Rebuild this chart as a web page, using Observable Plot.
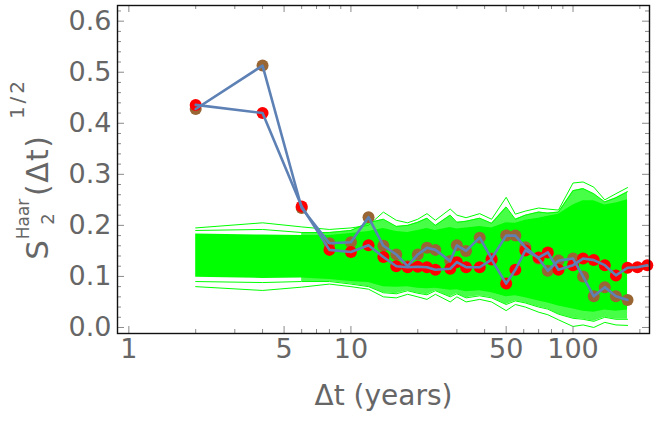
<!DOCTYPE html>
<html><head><meta charset="utf-8">
<script src="https://cdn.jsdelivr.net/npm/d3@7"></script>
<script src="https://cdn.jsdelivr.net/npm/@observablehq/plot@0.6"></script>
<style>body{margin:0;background:#fff;}</style>
</head><body><div id="chart"></div>
<script>
// Ensemble (green) envelope and a few edge traces
const ensT       = [2, 4, 6, 8, 10, 12, 14, 16, 18, 20, 22, 24, 28, 30, 33, 38, 43, 50, 55, 61, 70, 77, 86, 100, 111, 124, 139, 156, 176];
const ensOuterHi = [.195,.205,.197,.192,.195,.200,.226,.210,.205,.212,.223,.210,.232,.220,.215,.223,.212,.255,.222,.228,.234,.232,.230,.283,.285,.275,.250,.262,.274];
const ensEdgeHi  = [.190,.192,.186,.186,.190,.205,.212,.198,.200,.206,.214,.200,.220,.206,.208,.214,.204,.236,.212,.220,.226,.224,.226,.268,.272,.262,.246,.254,.266];
const ensCoreHi  = [.183,.181,.180,.180,.184,.188,.194,.188,.186,.190,.194,.190,.196,.193,.195,.198,.195,.205,.204,.210,.214,.218,.222,.240,.248,.248,.240,.244,.250];
const ensCoreLo  = [.0985,.096,.097,.094,.090,.088,.080,.079,.080,.077,.076,.077,.073,.074,.070,.072,.068,.060,.062,.058,.052,.048,.042,.036,.032,.030,.034,.032,.034];
const ensEdgeLo  = [.090,.088,.090,.090,.085,.080,.068,.066,.072,.067,.064,.072,.060,.066,.058,.062,.058,.045,.052,.048,.040,.036,.026,.018,.016,.012,.020,.016,.016];
const ensOuterLo = [.080,.0725,.079,.085,.080,.075,.060,.058,.065,.060,.055,.065,.050,.060,.050,.055,.050,.033,.045,.040,.030,.025,.015,.002,.005,.000,.010,.005,.004];

// Red series
const redT = [2, 4, 6, 8, 10, 12, 14, 16, 18, 20, 22, 24, 28, 30, 33, 38, 43, 50, 55, 61, 70, 77, 86, 100, 111, 124, 139, 156, 176, 195, 216];
const redV = [.436,.420,.237,.152,.148,.161,.138,.120,.118,.119,.118,.113,.115,.128,.118,.118,.133,.086,.113,.151,.137,.147,.113,.122,.135,.132,.122,.102,.117,.118,.122];

// Brown series
const brownT = [2, 4, 6, 8, 10, 12, 14, 16, 18, 20, 22, 24, 28, 30, 33, 38, 43, 50, 55, 61, 70, 77, 86, 100, 111, 124, 139, 156, 176];
const brownV = [.428,.513,.234,.165,.167,.216,.160,.143,.120,.143,.156,.152,.130,.161,.150,.176,.135,.180,.180,.157,.135,.111,.131,.135,.100,.061,.079,.061,.054];

// Ticks
const yMajor = [0, 0.1, 0.2, 0.3, 0.4, 0.5, 0.6];
const yMinor = [0.02,0.04,0.06,0.08,0.12,0.14,0.16,0.18,0.22,0.24,0.26,0.28,0.32,0.34,0.36,0.38,0.42,0.44,0.46,0.48,0.52,0.54,0.56,0.58,0.62];
const xMajor = [1, 5, 10, 50, 100];
const xMinor = [2, 3, 4, 6, 7, 8, 9, 20, 30, 40, 60, 70, 80, 90, 200];
const xTitle = "Δt (years)";

const W = 654, H = 424, mL = 117, mR = 5, mT = 5, mB = 91;
const fw = W - mL - mR, fh = H - mT - mB;
const FONT = "'DejaVu Sans', Verdana, sans-serif";
const GRAY = "#666666";
const TICK = "#8a8a8a";
const GREEN = "#00ff00";

const ens = ensT.map((t, i) => ({t, olo: ensOuterLo[i], ohi: ensOuterHi[i], elo: ensEdgeLo[i], ehi: ensEdgeHi[i], clo: ensCoreLo[i], chi: ensCoreHi[i]}));
const ensLate = ens.filter(d => d.t >= 6);
const red = redT.map((t, i) => ({t, v: redV[i]}));
const brown = brownT.map((t, i) => ({t, v: brownV[i]}));

const chart = Plot.plot({
  width: W, height: H,
  marginLeft: mL, marginRight: mR, marginTop: mT, marginBottom: mB,
  x: {type: "log", domain: [0.889, 221], axis: null},
  y: {domain: [-0.0118, 0.6307], axis: null},
  style: {fontFamily: FONT, background: "white", overflow: "visible"},
  marks: [
    Plot.areaY(ensLate, {x: "t", y1: "elo", y2: "ehi", fill: GREEN, fillOpacity: 0.72}),
    Plot.areaY(ens, {x: "t", y1: "clo", y2: "chi", fill: GREEN}),
    Plot.lineY(ens, {x: "t", y: "ohi", stroke: GREEN, strokeWidth: 1}),
    Plot.lineY(ens, {x: "t", y: "olo", stroke: GREEN, strokeWidth: 1}),
    Plot.lineY(ens, {x: "t", y: "ehi", stroke: GREEN, strokeWidth: 1}),
    Plot.lineY(ens, {x: "t", y: "elo", stroke: GREEN, strokeWidth: 1}),
    Plot.dot(brown, {x: "t", y: "v", r: 6, fill: "#996633"}),
    Plot.dot(red, {x: "t", y: "v", r: 6, fill: "#ff0000"}),
    Plot.line(brown, {x: "t", y: "v", stroke: "#5e81b5", strokeWidth: 2.6}),
    Plot.line(red, {x: "t", y: "v", stroke: "#5e81b5", strokeWidth: 2.6}),
    // ticks (inward) on all four sides
    Plot.tickX(xMajor, {x: d => d, insetTop: fh - 7, stroke: TICK}),
    Plot.tickX(xMinor, {x: d => d, insetTop: fh - 4, stroke: TICK}),
    Plot.tickX(xMajor, {x: d => d, insetBottom: fh - 7, stroke: TICK}),
    Plot.tickX(xMinor, {x: d => d, insetBottom: fh - 4, stroke: TICK}),
    Plot.tickY(yMajor, {y: d => d, insetRight: fw - 7, stroke: TICK}),
    Plot.tickY(yMinor, {y: d => d, insetRight: fw - 4, stroke: TICK}),
    Plot.tickY(yMajor, {y: d => d, insetLeft: fw - 7, stroke: TICK}),
    Plot.tickY(yMinor, {y: d => d, insetLeft: fw - 4, stroke: TICK}),
    Plot.frame({stroke: "#111", strokeWidth: 1.4}),
    Plot.text(yMajor, {y: d => d, frameAnchor: "left", dx: -6, textAnchor: "end", text: d3.format(".1f"), fontSize: 27, fill: GRAY}),
    Plot.text(xMajor, {x: d => d, frameAnchor: "bottom", dy: 24, text: d => String(d), fontSize: 27, fill: GRAY}),
    Plot.text([xTitle], {text: d => d, frameAnchor: "bottom", dy: 71, fontSize: 28, fill: GRAY})
  ]
});
document.getElementById("chart").appendChild(chart);

// Y-axis label with sub/superscripts (rotated)
const svg = d3.select(chart);
const lab = svg.append("g")
  .attr("transform", "translate(48,250) rotate(-90)")
  .attr("fill", GRAY).attr("font-family", FONT);
function addText(str, x, y, size, len) {
  const t = lab.append("text").attr("x", x).attr("y", y).attr("font-size", size).text(str);
  if (len) t.attr("textLength", len).attr("lengthAdjust", "spacing");
  return t;
}
addText("S", 0, 0, 31);
addText("Haar", 31, -19, 17);
addText("2", 31, 6, 18);
addText("(Δt)", 84, 0, 30, 60);
addText("1/2", 150, -24, 20, 38);
</script>
</body></html>
